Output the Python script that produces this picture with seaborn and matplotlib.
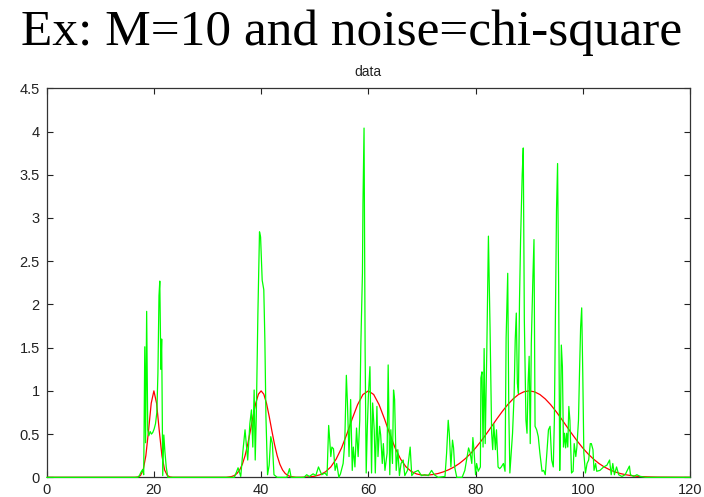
import numpy as np
import pandas as pd
import matplotlib
matplotlib.use("Agg")
import matplotlib.pyplot as plt
import seaborn as sns

# ---- data ----
title_text = "Ex: M=10 and noise=chi-square"
axes_title = "data"
x_ticks = [0, 20, 40, 60, 80, 100, 120]
y_ticks = [0, 0.5, 1, 1.5, 2, 2.5, 3, 3.5, 4, 4.5]
y_tick_labels = ["0", "0.5", "1", "1.5", "2", "2.5", "3", "3.5", "4", "4.5"]

# red: underlying clean signal
red_x = [0, 16.5, 17, 17.5, 18, 18.5, 19, 19.5, 20, 20.5, 21, 21.5, 22, 22.5, 23, 23.5,
         33.5, 34, 34.5, 35, 35.5, 36, 36.5, 37, 37.5, 38, 38.5, 39, 39.5, 40, 40.5, 41,
         41.5, 42, 42.5, 43, 43.5, 44, 44.5, 45, 45.5, 46, 46.5,
         47.5, 48, 49, 50, 51, 52, 53, 54, 55, 56, 57, 58, 59, 60, 61, 62, 63, 64, 65,
         66, 67, 68, 69, 70, 71, 72, 73, 74, 75, 76, 77, 78, 79, 80, 81, 82, 83, 84, 85,
         86, 87, 88, 89, 90, 91, 92, 93, 94, 95, 96, 97, 98, 99, 100, 101, 102, 103, 104,
         105, 106, 107, 108, 109, 110, 111, 112, 113, 114, 120]
red_y = [0, 0, 0.004, 0.021, 0.085, 0.25, 0.54, 0.857, 1.0, 0.857, 0.54, 0.25, 0.085, 0.021, 0.004, 0,
         0, 0.004, 0.009, 0.021, 0.044, 0.085, 0.151, 0.249, 0.381, 0.54, 0.707, 0.857, 0.962, 1.0, 0.962, 0.857,
         0.707, 0.54, 0.381, 0.249, 0.151, 0.085, 0.044, 0.021, 0.009, 0.004, 0,
         0, 0.002, 0.005, 0.013, 0.030, 0.063, 0.120, 0.211, 0.339, 0.501, 0.678, 0.841, 0.958, 1.0, 0.958, 0.841, 0.678, 0.501, 0.339,
         0.213, 0.123, 0.068, 0.039, 0.026, 0.025, 0.032, 0.044, 0.063, 0.088, 0.120, 0.161, 0.211, 0.270, 0.339, 0.417, 0.501, 0.589, 0.678, 0.763,
         0.841, 0.907, 0.958, 0.989, 1.0, 0.989, 0.958, 0.907, 0.841, 0.763, 0.678, 0.589, 0.501, 0.417, 0.339, 0.270, 0.211, 0.161, 0.120,
         0.088, 0.063, 0.044, 0.030, 0.020, 0.013, 0.0085, 0.0053, 0.0033, 0.002, 0]

# green: noisy observation (chi-square noise)
green_x = [0, 17.0, 17.3, 17.6, 17.9, 18.1, 18.3, 18.45, 18.65, 18.85, 19.05, 19.3, 19.55, 19.8,
           20.05, 20.3, 20.55, 20.75, 20.95, 21.1, 21.3, 21.45, 21.65, 21.85, 22.05, 22.3, 22.6,
           35.0, 35.4, 35.7, 36.2, 36.6, 37.0, 37.5, 37.9, 38.2, 38.45, 38.7, 38.9, 39.1, 39.4,
           39.7, 39.9, 40.2, 40.5, 40.7, 40.9, 41.2, 41.5, 41.8, 42.1, 42.4, 43.0, 44.8, 45.3, 45.6,
           48.0, 48.5, 49.0, 49.7, 50.2, 50.7, 51.3, 51.9, 52.3, 52.6, 52.8, 53.0, 53.2, 53.5, 53.8,
           54.1, 54.5, 54.8, 55.3, 55.6, 55.9, 56.1, 56.4, 56.7, 57.0, 57.2, 57.5, 57.8, 58.1, 58.4,
           58.6, 58.9, 59.0, 59.2, 59.4, 59.6, 59.8, 60.0, 60.3, 60.6, 60.8, 61.1, 61.3, 61.6, 61.8,
           62.1, 62.3, 62.6, 62.8, 63.1, 63.5, 63.7, 64.0, 64.2, 64.5, 64.7, 64.9, 65.2, 65.5, 65.8,
           66.1, 66.5, 66.8, 67.3, 67.8, 68.1, 68.6, 69.3, 69.9, 70.5, 71.2, 71.8, 72.3, 73.0,
           74.3, 74.6, 74.9, 75.1, 75.4, 75.7, 75.9, 76.1, 76.5, 77.5, 78.0, 78.7, 79.0, 79.3, 79.5,
           79.7, 80.0, 80.2, 80.5, 80.9, 81.0, 81.2, 81.4, 81.6, 81.8, 82.1, 82.4, 82.5, 82.7, 83.0,
           83.2, 83.4, 83.7, 83.9, 84.2, 84.5, 84.8, 85.2, 85.5, 85.7, 86.0, 86.2, 86.4, 86.7, 86.9,
           87.2, 87.4, 87.6, 87.8, 88.0, 88.2, 88.4, 88.7, 88.9, 89.1, 89.4, 89.6, 89.8, 90.0, 90.2,
           90.4, 90.7, 90.9, 91.1, 91.4, 91.7, 92.0, 92.4, 92.7, 93.0, 93.3, 93.6, 93.9, 94.2, 94.5,
           94.7, 94.9, 95.1, 95.3, 95.5, 95.7, 95.8, 96.0, 96.2, 96.4, 96.6, 96.8, 97.0, 97.2, 97.4,
           97.6, 97.9, 98.2, 98.4, 98.7, 98.9, 99.2, 99.4, 99.6, 99.8, 100.0, 100.2, 100.5, 100.8,
           101.1, 101.4, 101.6, 101.9, 102.1, 102.4, 102.6, 103.2, 103.9, 104.5, 105.0, 105.3, 105.6,
           105.9, 106.3, 106.7, 107.3, 107.9, 108.7, 108.9, 109.5, 110.1, 110.7, 111.7, 120]
green_y = [0, 0, 0.02, 0.06, 0.09, 0.03, 1.51, 0.4, 1.92, 0.55, 0.48, 0.53, 0.5, 0.52,
           0.56, 0.62, 0.75, 1.2, 2.1, 2.27, 1.25, 1.6, 0.02, 0.49, 0.3, 0.12, 0,
           0, 0.06, 0.11, 0.01, 0.3, 0.55, 0.2, 0.62, 0.78, 0.35, 1.01, 0.2, 0.7, 1.9,
           2.84, 2.78, 2.28, 2.17, 1.59, 0.7, 0.03, 0.14, 0.47, 0.39, 0.03, 0, 0, 0.1, 0,
           0, 0.03, 0.01, 0.04, 0.02, 0.12, 0.03, 0.05, 0.02, 0.6, 0.43, 0.24, 0.35, 0.33, 0.08,
           0.16, 0, 0.04, 0.16, 0.4, 1.18, 0.86, 0.24, 0.9, 0.08, 0.35, 0.12, 0.57, 0.24, 0.66,
           1.53, 2.36, 3.17, 4.04, 1.47, 0.05, 0.55, 0.93, 1.28, 0.05, 0.86, 0.55, 0.05, 0.82, 0.24,
           0.59, 0.49, 0.16, 0.39, 0.08, 0.28, 1.30, 0.03, 0.55, 0.16, 1.01, 0.9, 0.08, 0.32, 0.02,
           0.16, 0.2, 0.02, 0.08, 0.35, 0.02, 0.06, 0.08, 0.02, 0.03, 0.02, 0.08, 0.03, 0,
           0.01, 0.28, 0.66, 0.51, 0.12, 0.43, 0.34, 0.12, 0, 0, 0.08, 0.34, 0.28, 0.16, 0.46,
           0.32, 0.03, 0.16, 0.07, 0.12, 1.15, 1.22, 0.35, 1.49, 0.39, 1.47, 2.79, 2.44, 1.74, 0.51,
           0.32, 0.62, 0.32, 0.55, 0.12, 0.1, 0.12, 0.16, 0.07, 1.61, 2.36, 0.78, 0.05, 0.32, 0.51,
           0.97, 1.59, 1.9, 1.09, 0.97, 2.05, 2.75, 3.5, 3.81, 1.82, 0.66, 0.51, 1.09, 1.40, 0.39,
           1.55, 2.32, 2.75, 0.59, 0.55, 0.47, 0.28, 0.07, 0.08, 0.03, 0.28, 0.55, 0.59, 0.2, 0.12,
           0.66, 1.9, 3.09, 3.63, 2.21, 0.08, 0.43, 1.53, 1.28, 0.35, 0.51, 0.34, 0.51, 0.35, 0.82,
           0.66, 0.05, 0.07, 0.39, 0.24, 0.35, 0.66, 1.24, 1.74, 1.96, 1.2, 0.28, 0.05, 0.16,
           0.2, 0.39, 0.39, 0.32, 0.08, 0.16, 0.07, 0.08, 0.12, 0.14, 0.2, 0.03, 0.16,
           0.03, 0.12, 0.03, 0.01, 0.03, 0.13, 0.03, 0.01, 0.03, 0.01, 0, 0]

sns.set_style("white")
plt.rcParams["font.family"] = ["Liberation Sans", "DejaVu Sans"]

fig = plt.figure(figsize=(7.04, 4.97), dpi=100)
ax = fig.add_axes([0.0663, 0.0396, 0.9138, 0.7827])

df_red = pd.DataFrame({"x": red_x, "y": red_y})
df_green = pd.DataFrame({"x": green_x, "y": green_y})

sns.lineplot(data=df_red, x="x", y="y", ax=ax, color="#ff0000", linewidth=0.9,
             sort=False, estimator=None, zorder=3)
sns.lineplot(data=df_green, x="x", y="y", ax=ax, color="#00ff00", linewidth=0.9,
             sort=False, estimator=None, zorder=4, clip_on=False)

ax.set_xlim(0, 120)
ax.set_ylim(0, 4.5)
ax.set_xticks(x_ticks)
ax.set_xticklabels([str(t) for t in x_ticks])
ax.set_yticks(y_ticks)
ax.set_yticklabels(y_tick_labels)
ax.set_xlabel("")
ax.set_ylabel("")
ax.tick_params(direction="in", length=4, width=0.8, colors="#222222",
               labelsize=10.5, top=True, right=True, bottom=True, left=True,
               labelcolor="#222222")
ax.tick_params(axis="y", pad=5)
ax.tick_params(axis="x", pad=4)
for s in ax.spines.values():
    s.set_visible(True)
    s.set_color("#333333")
    s.set_linewidth(0.9)

ax.set_title(axes_title, fontsize=10, pad=9, color="#222222")

fig.text(0.5, 0.909, title_text, ha="center", va="baseline",
         fontsize=37, family=["Liberation Serif", "DejaVu Serif"], color="black")

fig.savefig("out.png", dpi=100, facecolor="white")
